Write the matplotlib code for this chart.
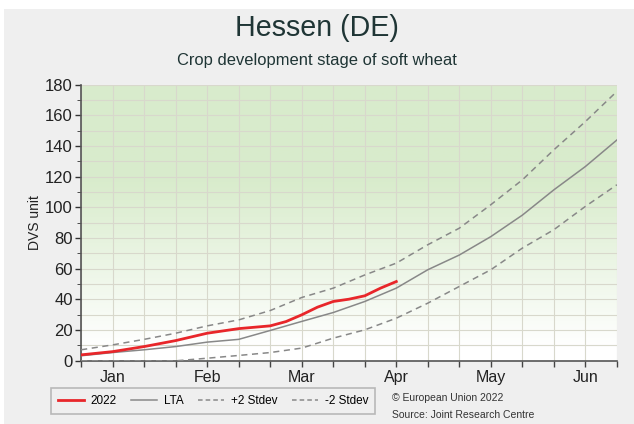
import numpy as np
import matplotlib.pyplot as plt
from matplotlib.patches import Rectangle
from matplotlib.lines import Line2D

plt.rcParams['font.family'] = ['Liberation Sans', 'DejaVu Sans']

# dekads from late December to late June
dekad = [0, 1, 2, 3, 4, 5, 6, 7, 8, 9, 10, 11, 12, 13, 14, 15, 16, 17]
lta = [3.3, 5.4, 7.2, 9.3, 12.2, 14, 19.8, 25.7, 31.5, 38.7, 47.4, 59.4,
       69, 81, 95, 111.5, 126.7, 144]
plus2 = [7.2, 10.4, 14, 18, 22.8, 26.7, 32.8, 41.3, 47.4, 56, 63.7, 75.7,
         86.5, 101.8, 118, 137.6, 156, 175.7]
minus2 = [0, 0, 0, 0, 1.7, 3.5, 5.4, 8.3, 14.8, 20.2, 27.8, 37.6,
          48.5, 59.4, 73.5, 85.5, 100.7, 114.8]
dekad_2022 = [0, 1, 2, 3, 4, 5, 6, 6.5, 7, 7.5, 8, 8.5, 9, 9.5, 10]
y2022 = [3.9, 6, 9.3, 13.2, 18, 21, 22.8, 25.6, 30, 35, 38.7, 40.2, 42.4, 47.4, 51.7]

month_pos = [1, 4, 7, 10, 13, 16]
month_labels = ['Jan', 'Feb', 'Mar', 'Apr', 'May', 'Jun']

bg = '#efefef'
fig = plt.figure(figsize=(6.34, 4.24), dpi=100, facecolor=bg)
fig.patches.append(Rectangle((0, 0.978), 1, 0.022, transform=fig.transFigure,
                             facecolor='white', edgecolor='none'))
fig.patches.append(Rectangle((0, 0), 0.006, 1, transform=fig.transFigure,
                             facecolor='white', edgecolor='none'))
ax = fig.add_axes([0.128, 0.149, 0.845, 0.651])

# green gradient background
grad = np.linspace(0, 1, 256).reshape(-1, 1)
grad = np.clip((grad - 0.05) / 0.6, 0, 1)
c_top = np.array([0.85, 0.925, 0.80])
c_bot = np.array([1.0, 1.0, 1.0])
img = c_bot + (c_top - c_bot) * grad[..., None]
ax.imshow(img, extent=[0, 17, 0, 180], origin='lower', aspect='auto', zorder=0)

ax.set_xlim(0, 17)
ax.set_ylim(0, 180)
ax.set_xticks(range(0, 18))
ax.set_xticklabels([''] * 18)
for p, lab in zip(month_pos, month_labels):
    ax.text(p, -6, lab, ha='center', va='top', fontsize=11.5, color='#222222')
ax.set_yticks(range(0, 181, 20))
ax.set_yticks(range(0, 181, 10), minor=True)
ax.tick_params(axis='y', labelsize=12, colors='#333333', length=4, width=1,
               labelcolor='#222222', pad=2)
ax.tick_params(axis='y', which='minor', length=3, colors='#333333')
ax.tick_params(axis='x', length=4, width=1, colors='#444444')
ax.grid(True, which='both', color='#d8d8cc', linewidth=0.8, zorder=1)
for s in ['top', 'right']:
    ax.spines[s].set_visible(False)
for s in ['left', 'bottom']:
    ax.spines[s].set_color('#555555')
    ax.spines[s].set_linewidth(1.2)
ax.set_ylabel('DVS unit', fontsize=10, color='#222222', labelpad=2)

ax.plot(dekad, plus2, color='#888888', lw=1.1, ls=(0, (4, 3)), zorder=3)
ax.plot(dekad, minus2, color='#888888', lw=1.1, ls=(0, (4, 3)), zorder=3)
ax.plot(dekad, lta, color='#888888', lw=1.1, zorder=3)
ax.plot(dekad_2022, y2022, color='#e8262a', lw=2, zorder=4)

fig.text(0.5, 0.933, 'Hessen (DE)', ha='center', va='center', fontsize=20.6, color='#1f3535')
fig.text(0.5, 0.858, 'Crop development stage of soft wheat', ha='center', va='center',
         fontsize=11.9, color='#1f3535')

handles = [Line2D([], [], color='#e8262a', lw=2),
           Line2D([], [], color='#888888', lw=1.1),
           Line2D([], [], color='#888888', lw=1.1, ls=(0, (3, 2))),
           Line2D([], [], color='#888888', lw=1.1, ls=(0, (3, 2)))]
leg = fig.legend(handles, ['2022', 'LTA', '+2 Stdev', '-2 Stdev'], ncol=4,
                 loc='center', bbox_to_anchor=(0.336, 0.054), fontsize=8.5,
                 frameon=True, fancybox=False, edgecolor='#aaaaaa', facecolor=bg,
                 handlelength=2.2, columnspacing=1.2, handletextpad=0.6,
                 borderpad=0.6)
leg.get_frame().set_linewidth(1.2)

fig.text(0.618, 0.062, '\u00a9 European Union 2022', fontsize=7.5, color='#333333', va='center')
fig.text(0.618, 0.022, 'Source: Joint Research Centre', fontsize=7.5, color='#333333', va='center')

fig.savefig('out.png', dpi=100, facecolor=bg)
